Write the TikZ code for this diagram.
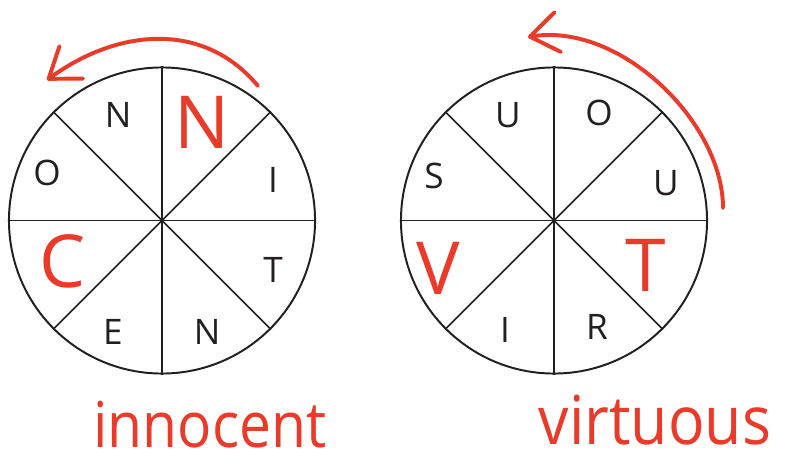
\documentclass[tikz,border=0pt]{standalone}
\usepackage{fontspec}
\setmainfont{Open Sans}
\usetikzlibrary{arrows.meta, positioning}
\definecolor{inkred}{HTML}{EA3A2A}
\definecolor{print}{HTML}{231F20}
\tikzset{
  % ruota del cifrario
  wheel/.style={circle, draw=print, line width=1.4pt, minimum size=7.65cm, inner sep=0pt},
  spoke/.style={draw=print, line width=1.2pt},
  % lettera stampata in un settore
  lett/.style={font=\fontsize{25}{30}\selectfont, text=print, inner sep=0pt},
  % lettera scritta a mano
  inklett/.style={font=\fontsize{52}{60}\selectfont, text=inkred, inner sep=0pt},
  % parola scritta a mano
  inkword/.style={text=inkred, inner sep=0pt, anchor=base},
  % freccia a mano
  inkarrow/.style={-{Straight Barb[length=7mm, width=10mm, round]}, line width=2.8pt,
    inkred, line cap=round},
}

\begin{document}
\begin{tikzpicture}[x=0.025cm, y=0.025cm]
  \useasboundingbox (0,0) rectangle (787,462);
  \node[wheel] (lw) at (162,241.5) {};
  \node[wheel] (rw) at (554,241.5) {};
  \draw[spoke] (lw.north) -- (lw.south);
  \draw[spoke] (lw.west) -- (lw.east);
  \draw[spoke] (lw.north west) -- (lw.south east);
  \draw[spoke] (lw.north east) -- (lw.south west);
  \draw[spoke] (rw.north) -- (rw.south);
  \draw[spoke] (rw.west) -- (rw.east);
  \draw[spoke] (rw.north west) -- (rw.south east);
  \draw[spoke] (rw.north east) -- (rw.south west);
  \node[lett] (ln1) at (118,347) {N};
  \node[inklett] (ln2) at (202,340) {N};
  \node[lett] (li) at (273,282) {I};
  \node[lett] (lt) at (273,192) {T};
  \node[lett] (ln3) at (207,130) {N};
  \node[lett] (le) at (113,130) {E};
  \node[inklett] (lc) at (63,201) {C};
  \node[lett] (lo) at (47,289) {O};
  \node[lett] (ru1) at (508,347) {U};
  \node[lett] (ro) at (599,349) {O};
  \node[lett] (ru2) at (666,279) {U};
  \node[inklett] (rt) at (646,197) {T};
  \node[lett] (rr) at (597,135) {R};
  \node[lett] (ri) at (505,132) {I};
  \node[inklett] (rv) at (438,194) {V};
  \node[lett] (rs) at (434,286) {S};
  \coordinate (la) at (258,376);
  \coordinate (lb) at (47,382);
  \draw[inkarrow] (la) .. controls (205,440) and (120,435) .. (lb);
  \coordinate (ra) at (723,254);
  \coordinate (rb) at (528,425);
  \draw[inkarrow] (ra) .. controls (723,340) and (620,440) .. (rb);
  \node[inkword, font=\fontsize{45}{54}\selectfont, xscale=0.9] (iw) at (210,15) {innocent};
  \node[inkword, font=\fontsize{48}{58}\selectfont, xscale=0.9] (vw) at (655,18) {virtuous};
\end{tikzpicture}
\end{document}
